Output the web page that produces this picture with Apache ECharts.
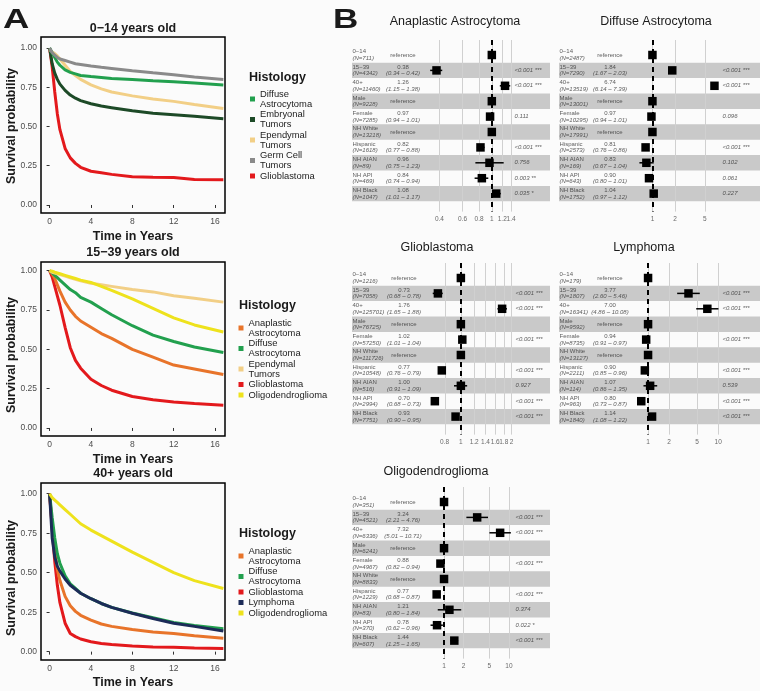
<!DOCTYPE html>
<html><head><meta charset="utf-8">
<script src="https://cdn.jsdelivr.net/npm/echarts@6/dist/echarts.min.js"></script>
<style>html,body{margin:0;padding:0;background:#fbfbfb;}#c{width:760px;height:691px;}</style>
</head><body><div id="c"></div>
<script>
const FONT = '"Liberation Sans", Arial, Helvetica, sans-serif';

// ---------- Panel A: Kaplan-Meier curves (survival read at these times) ----------
const times = [0,0.25,0.5,0.75,1,1.5,2,2.5,3,4,5,6,8,10,12,14,16.8];
const kmTicksX = [0,4,8,12,16];
const kmTicksY = [0,0.25,0.5,0.75,1];

// 0−14 years old
const c_DA  = [1.00,0.97,0.94,0.91,0.89,0.86,0.845,0.835,0.825,0.818,0.812,0.806,0.80,0.792,0.785,0.777,0.765];
const c_EMB = [1.00,0.90,0.84,0.80,0.77,0.73,0.70,0.68,0.665,0.645,0.63,0.62,0.60,0.585,0.575,0.565,0.55];
const c_EPE = [0.99,0.975,0.965,0.95,0.93,0.89,0.85,0.825,0.80,0.765,0.74,0.72,0.695,0.675,0.66,0.64,0.615];
const c_GCT = [1.00,0.97,0.955,0.94,0.93,0.92,0.91,0.90,0.895,0.885,0.877,0.87,0.855,0.842,0.83,0.815,0.80];
const c_GBM = [1.00,0.88,0.72,0.58,0.48,0.36,0.30,0.265,0.24,0.215,0.205,0.195,0.18,0.177,0.175,0.162,0.16];
// 15−39 years old
const a_AA  = [1.00,0.98,0.95,0.91,0.87,0.80,0.75,0.71,0.68,0.64,0.60,0.57,0.50,0.45,0.40,0.375,0.34];
const a_DA  = [1.00,0.985,0.97,0.955,0.94,0.91,0.88,0.86,0.83,0.80,0.76,0.72,0.65,0.59,0.55,0.515,0.48];
const a_EPE = [1.00,0.99,0.985,0.98,0.975,0.965,0.955,0.945,0.935,0.92,0.91,0.90,0.88,0.865,0.84,0.825,0.80];
const a_GBM = [1.00,0.96,0.90,0.84,0.78,0.64,0.51,0.43,0.38,0.31,0.27,0.24,0.20,0.18,0.165,0.155,0.145];
const a_OLI = [1.00,0.997,0.99,0.985,0.98,0.97,0.96,0.95,0.94,0.925,0.90,0.875,0.82,0.76,0.70,0.655,0.61];
// 40+ years old
const o_AA  = [1.00,0.80,0.64,0.52,0.45,0.35,0.29,0.255,0.23,0.20,0.175,0.16,0.14,0.125,0.115,0.10,0.085];
const o_DA  = [1.00,0.85,0.72,0.62,0.56,0.48,0.43,0.40,0.37,0.335,0.305,0.28,0.245,0.215,0.185,0.165,0.145];
const o_GBM = [1.00,0.78,0.57,0.42,0.31,0.18,0.115,0.095,0.08,0.063,0.052,0.045,0.036,0.03,0.027,0.023,0.02];
const o_LYM = [1.00,0.72,0.60,0.54,0.51,0.46,0.42,0.395,0.37,0.335,0.305,0.28,0.243,0.21,0.18,0.16,0.13];
const o_OLI = [1.00,0.975,0.96,0.945,0.93,0.90,0.87,0.84,0.81,0.77,0.735,0.70,0.63,0.565,0.50,0.45,0.40];

// ---------- Panel B: forest plots ----------
const rowGroups = ['0\u221214','15\u221239','40+','Male','Female','NH White','Hispanic','NH AIAN','NH API','NH Black'];

const aa_N  = [711,4342,11460,9228,7285,13218,1618,89,469,1047];
const aa_HR = [null,0.38,1.26,null,0.97,null,0.82,0.96,0.84,1.08];
const aa_LO = [null,0.34,1.15,null,0.94,null,0.77,0.75,0.74,1.01];
const aa_HI = [null,0.42,1.38,null,1.01,null,0.88,1.23,0.94,1.17];
const aa_P  = ['','<0.001 ***','<0.001 ***','','0.111','','<0.001 ***','0.756','0.003 **','0.035 *'];
const aa_ticks = [0.4,0.6,0.8,1,1.2,1.4];

const da_N  = [2487,7290,13519,13001,10295,17991,2573,169,643,1752];
const da_HR = [null,1.84,6.74,null,0.97,null,0.81,0.83,0.90,1.04];
const da_LO = [null,1.67,6.14,null,0.94,null,0.76,0.67,0.80,0.97];
const da_HI = [null,2.03,7.39,null,1.01,null,0.86,1.04,1.01,1.12];
const da_P  = ['','<0.001 ***','<0.001 ***','','0.096','','<0.001 ***','0.102','0.061','0.227'];
const da_ticks = [1,2,5];

const gb_N  = [1216,7058,125701,76725,57250,111726,10548,516,2994,7751];
const gb_HR = [null,0.73,1.76,null,1.02,null,0.77,1.00,0.70,0.93];
const gb_LO = [null,0.68,1.65,null,1.01,null,0.76,0.91,0.68,0.90];
const gb_HI = [null,0.78,1.88,null,1.04,null,0.79,1.09,0.73,0.95];
const gb_P  = ['','<0.001 ***','<0.001 ***','','<0.001 ***','','<0.001 ***','0.927','<0.001 ***','<0.001 ***'];
const gb_ticks = [0.8,1,1.2,1.4,1.6,1.8,2];

const ly_N  = [179,1807,16341,9592,8735,13127,2211,114,963,1840];
const ly_HR = [null,3.77,7.00,null,0.94,null,0.90,1.07,0.80,1.14];
const ly_LO = [null,2.60,4.86,null,0.91,null,0.85,0.86,0.73,1.08];
const ly_HI = [null,5.46,10.08,null,0.97,null,0.96,1.35,0.87,1.22];
const ly_P  = ['','<0.001 ***','<0.001 ***','','<0.001 ***','','<0.001 ***','0.539','<0.001 ***','<0.001 ***'];
const ly_ticks = [1,2,5,10];

const ol_N  = [351,4521,6336,6241,4967,8833,1229,83,370,607];
const ol_HR = [null,3.24,7.32,null,0.88,null,0.77,1.21,0.78,1.44];
const ol_LO = [null,2.21,5.01,null,0.82,null,0.68,0.80,0.62,1.25];
const ol_HI = [null,4.76,10.71,null,0.94,null,0.87,1.84,0.96,1.65];
const ol_P  = ['','<0.001 ***','<0.001 ***','','<0.001 ***','','<0.001 ***','0.374','0.022 *','<0.001 ***'];
const ol_ticks = [1,2,5,10];

// ---------- colours / legend names ----------
const COL = {
  'Anaplastic Astrocytoma':'#e8742a', 'Diffuse Astrocytoma':'#22a04e', 'Embryonal Tumors':'#1d4a27',
  'Ependymal Tumors':'#f2cf86', 'Germ Cell Tumors':'#8a8a8a', 'Glioblastoma':'#e3191c',
  'Lymphoma':'#1c2b58', 'Oligodendroglioma':'#eee21c'
};
const LEG = {
  'Anaplastic Astrocytoma':'Anaplastic\nAstrocytoma', 'Diffuse Astrocytoma':'Diffuse\nAstrocytoma',
  'Embryonal Tumors':'Embryonal\nTumors', 'Ependymal Tumors':'Ependymal\nTumors', 'Germ Cell Tumors':'Germ Cell\nTumors'
};

const grid=[], xAxis=[], yAxis=[], series=[], graphic=[], legend=[];

function txt(x,y,text,font,align,extra){
  graphic.push(Object.assign({type:'text', x, y, silent:true, style:{text, font, fill:'#1a1a1a', textAlign:align||'center', textVerticalAlign:'middle'}}, extra||{}));
}

// ---------- KM plots ----------
const kmLayouts = [
  {top:37, height:176, ymin:-0.051, ymax:1.07, title:'0\u221214 years old', ty:29, yname:126, xname:237, legTop:89, legX:250, histY:78, histX:249},
  {top:262, height:174, ymin:-0.051, ymax:1.055, title:'15\u221239 years old', ty:253, yname:355, xname:460, legTop:318, legX:238.5, histY:306, histX:239},
  {top:483, height:177, ymin:-0.053, ymax:1.068, title:'40+ years old', ty:474, yname:578, xname:683, legTop:546, legX:238.5, histY:534, histX:239}
];
const kmCurves = [
  [['Glioblastoma',c_GBM],['Embryonal Tumors',c_EMB],['Ependymal Tumors',c_EPE],['Diffuse Astrocytoma',c_DA],['Germ Cell Tumors',c_GCT]],
  [['Glioblastoma',a_GBM],['Anaplastic Astrocytoma',a_AA],['Diffuse Astrocytoma',a_DA],['Ependymal Tumors',a_EPE],['Oligodendroglioma',a_OLI]],
  [['Glioblastoma',o_GBM],['Anaplastic Astrocytoma',o_AA],['Diffuse Astrocytoma',o_DA],['Lymphoma',o_LYM],['Oligodendroglioma',o_OLI]]
];
const kmLegend = [
  ['Diffuse Astrocytoma','Embryonal Tumors','Ependymal Tumors','Germ Cell Tumors','Glioblastoma'],
  ['Anaplastic Astrocytoma','Diffuse Astrocytoma','Ependymal Tumors','Glioblastoma','Oligodendroglioma'],
  ['Anaplastic Astrocytoma','Diffuse Astrocytoma','Glioblastoma','Lymphoma','Oligodendroglioma']
];

kmLayouts.forEach((L,i)=>{
  grid.push({left:41, top:L.top, width:184, height:L.height, show:true, borderColor:'#000', borderWidth:1.5, backgroundColor:'transparent'});
  xAxis.push({gridIndex:i, type:'value', min:-0.83, max:16.96, axisLine:{show:false}, splitLine:{show:false},
    axisTick:{show:true, customValues:kmTicksX, length:3, lineStyle:{color:'#333'}},
    axisLabel:{customValues:kmTicksX, showMinLabel:true, showMaxLabel:true, fontSize:8.5, color:'#4d4d4d', margin:4, fontFamily:FONT}});
  yAxis.push({gridIndex:i, type:'value', min:L.ymin, max:L.ymax, axisLine:{show:false}, splitLine:{show:false},
    axisTick:{show:true, customValues:kmTicksY, length:3, lineStyle:{color:'#333'}},
    axisLabel:{customValues:kmTicksY, showMinLabel:true, showMaxLabel:true, formatter:v=>v.toFixed(2), fontSize:8.5, color:'#4d4d4d', margin:4, fontFamily:FONT}});
  kmCurves[i].forEach(([name,vals])=>{
    series.push({type:'line', name, xAxisIndex:i, yAxisIndex:i, showSymbol:false, symbol:'none', silent:true,
      data: times.map((t,k)=>[t, vals[k]]), lineStyle:{width:3, color:COL[name]}, itemStyle:{color:COL[name]}, z:3});
  });
  legend.push({orient:'vertical', left:L.legX, top:L.legTop, padding:0, itemWidth:5, itemHeight:5, itemGap:0.5, icon:'rect',
    selectedMode:false, data:kmLegend[i], formatter:n=>LEG[n]||n,
    textStyle:{fontSize:9.4, lineHeight:10, color:'#222', fontFamily:FONT}});
  txt(133, L.ty, L.title, 'bold 12.5px '+FONT);
  txt(133, L.xname, 'Time in Years', 'bold 12.5px '+FONT);
  txt(12, L.yname, 'Survival probability', 'bold 12.5px '+FONT, 'center', {rotation:Math.PI/2});
  txt(L.histX, L.histY, 'Histology', 'bold 12.5px '+FONT, 'left');
});

txt(3, 20, 'A', 'bold 28px '+FONT, 'left', {scaleX:1.3, originX:0, originY:0});
txt(333, 20, 'B', 'bold 28px '+FONT, 'left', {scaleX:1.25, originX:0, originY:0});

// ---------- Forest plots ----------
const forests = [
  {title:'Anaplastic Astrocytoma', tx:455, ty:22, N:aa_N, HR:aa_HR, LO:aa_LO, HI:aa_HI, P:aa_P, ticks:aa_ticks, lo:0.3, hi:1.5, tL:352, tR:550, eX:403, pX:514, fL:423, fR:515, y0:55},
  {title:'Diffuse Astrocytoma', tx:656, ty:22, N:da_N, HR:da_HR, LO:da_LO, HI:da_HI, P:da_P, ticks:da_ticks, lo:0.55, hi:8.5, tL:559, tR:760, eX:610, pX:722, fL:633, fR:722, y0:55},
  {title:'Glioblastoma', tx:437, ty:248, N:gb_N, HR:gb_HR, LO:gb_LO, HI:gb_HI, P:gb_P, ticks:gb_ticks, lo:0.62, hi:2.1, tL:352, tR:550, eX:404, pX:515, fL:426, fR:515, y0:278},
  {title:'Lymphoma', tx:644, ty:248, N:ly_N, HR:ly_HR, LO:ly_LO, HI:ly_HI, P:ly_P, ticks:ly_ticks, lo:0.6, hi:12.5, tL:559, tR:760, eX:610, pX:722, fL:632.5, fR:725, y0:278},
  {title:'Oligodendroglioma', tx:436, ty:472, N:ol_N, HR:ol_HR, LO:ol_LO, HI:ol_HI, P:ol_P, ticks:ol_ticks, lo:0.5, hi:14, tL:352, tR:550, eX:403, pX:515, fL:424.5, fR:518.4, y0:502}
];

const rowH = 15.4;
const richSmall = {
  a:{fontSize:6, lineHeight:6.5, color:'#333', fontFamily:FONT},
  b:{fontSize:6, lineHeight:6.5, color:'#333', fontStyle:'italic', fontFamily:FONT}
};

forests.forEach((p, idx)=>{
  const gT = 3 + idx*2, gF = gT + 1;
  const top = p.y0 - 15, height = 9*rowH + 33;
  const ymin = 1 - 15/rowH, ymax = 10 + 18/rowH;
  grid.push({left:p.tL, top, width:p.tR-p.tL, height});
  grid.push({left:p.fL, top, width:p.fR-p.fL, height});
  xAxis.push({gridIndex:gT, type:'value', min:0, max:1, show:false});
  xAxis.push({gridIndex:gF, type:'value', min:Math.log(p.lo), max:Math.log(p.hi), show:false});
  yAxis.push({gridIndex:gT, type:'value', inverse:true, min:ymin, max:ymax, show:false});
  yAxis.push({gridIndex:gF, type:'value', inverse:true, min:ymin, max:ymax, show:false});

  const W = p.tR - p.tL;
  // row labels + stripes
  series.push({type:'scatter', xAxisIndex:gT, yAxisIndex:gT, z:1, silent:true, symbolSize:1, itemStyle:{color:'rgba(0,0,0,0)'},
    data: rowGroups.map((g,i)=>[0, i+1]),
    label:{show:true, position:'right', distance:0, rich:richSmall,
      formatter: prm => '{a|'+rowGroups[prm.dataIndex]+'}\n{b|(N='+p.N[prm.dataIndex]+')}'},
    markArea:{silent:true, itemStyle:{color:'#c9c9c9'}, data:[2,4,6,8,10].map(r=>[{yAxis:r-0.5},{yAxis:r+0.5}])}
  });
  // estimates column
  series.push({type:'scatter', xAxisIndex:gT, yAxisIndex:gT, z:2, silent:true, symbolSize:1, itemStyle:{color:'rgba(0,0,0,0)'},
    data: rowGroups.map((g,i)=>[(p.eX-p.tL)/W, i+1]),
    label:{show:true, position:'inside', rich:richSmall, align:'center',
      formatter: prm => { const i = prm.dataIndex; if (p.HR[i]==null) return '{a|reference}';
        return '{a|'+p.HR[i].toFixed(2)+'}\n{b|('+p.LO[i].toFixed(2)+' \u2013 '+p.HI[i].toFixed(2)+')}'; }}
  });
  // p-value column
  series.push({type:'scatter', xAxisIndex:gT, yAxisIndex:gT, z:2, silent:true, symbolSize:1, itemStyle:{color:'rgba(0,0,0,0)'},
    data: rowGroups.map((g,i)=>[(p.pX-p.tL)/W, i+1]),
    label:{show:true, position:'right', distance:0, fontSize:6, fontStyle:'italic', color:'#333', fontFamily:FONT,
      formatter: prm => p.P[prm.dataIndex]}
  });
  // grid lines + reference dashed line
  series.push({type:'scatter', xAxisIndex:gF, yAxisIndex:gF, z:3, silent:true, symbolSize:0, data:[[0,1]],
    markLine:{silent:true, symbol:'none', label:{show:false}, animation:false,
      data:[...p.ticks.map(t=>({xAxis:Math.log(t), lineStyle:{color:'#d0d0d0', width:1, type:'solid'}})),
            {xAxis:0, lineStyle:{color:'#000', width:2, type:[5,4]}}]}
  });
  // tick labels of the HR axis (placed at axis bottom through the forest scale)
  series.push({type:'scatter', xAxisIndex:gF, yAxisIndex:gF, z:3, silent:true, clip:false, symbolSize:1, itemStyle:{color:'rgba(0,0,0,0)'},
    data: p.ticks.map(t=>[Math.log(t), ymax]),
    label:{show:true, position:'bottom', distance:4, fontSize:6.5, color:'#444', fontFamily:FONT,
      formatter: prm => String(p.ticks[prm.dataIndex])},
    labelLayout:{hideOverlap:false}
  });
  // CI whiskers + boxes
  series.push({type:'custom', xAxisIndex:gF, yAxisIndex:gF, z:5, silent:true,
    data: rowGroups.map((g,i)=>[Math.log(p.HR[i]==null?1:p.HR[i]), Math.log(p.LO[i]==null?1:p.LO[i]), Math.log(p.HI[i]==null?1:p.HI[i]), i+1, p.HR[i]==null?0:1]),
    renderItem:(params, api)=>{
      const y = api.value(3);
      const c = api.coord([api.value(0), y]);
      const ch = [];
      if (api.value(4)) {
        const a = api.coord([api.value(1), y]), b = api.coord([api.value(2), y]);
        ch.push({type:'line', shape:{x1:a[0], y1:a[1], x2:b[0], y2:b[1]}, style:{stroke:'#000', lineWidth:1.5}});
      }
      const s = 8.5;
      ch.push({type:'rect', shape:{x:c[0]-s/2, y:c[1]-s/2, width:s, height:s}, style:{fill:'#000'}});
      return {type:'group', children:ch};
    }
  });
  txt(p.tx, p.ty, p.title, '12.5px '+FONT);
});

const chart = echarts.init(document.getElementById('c'), null, {renderer:'canvas'});
chart.setOption({animation:false, backgroundColor:'#fbfbfb', grid, xAxis, yAxis, series, legend, graphic});
</script>
</body></html>
